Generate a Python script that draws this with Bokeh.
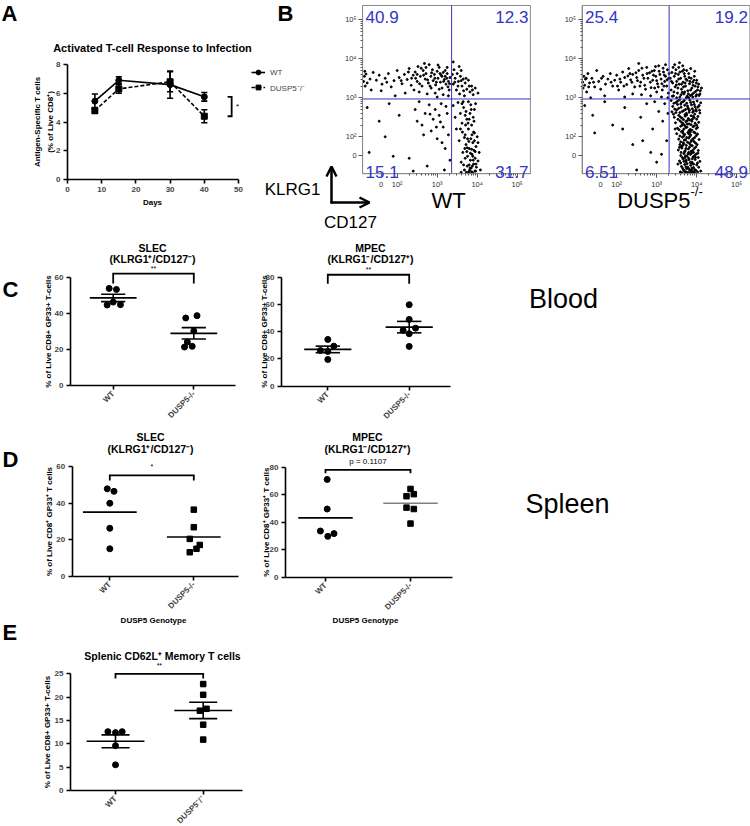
import math
import numpy as np
from bokeh.plotting import figure
from bokeh.models import (Label, Arrow, OpenHead, FixedTicker, Legend, LegendItem,
                          Range1d, LinearAxis)
from bokeh.embed import file_html
from bokeh.resources import INLINE

FONT = "Liberation Sans"
BLUE = "#3434c8"

# ---------------- data ----------------
# Panel A: time course (mean +/- SEM)
days = [8, 15, 30, 40]
a_wt_mean = [5.45, 6.9, 6.6, 5.75]
a_wt_sem = [0.5, 0.25, 0.95, 0.3]
a_ko_mean = [4.8, 6.3, 6.8, 4.4]
a_ko_sem = [0.2, 0.3, 0.7, 0.45]
a_series = ["WT", "DUSP5\u207b/\u207b"]
a_sig = "*"

# Panel B: flow cytometry (display decades); quadrant % TL, TR, BL, BR
flow_names = ["WT", "DUSP5"]
wt_quadrants = ["40.9", "12.3", "15.1", "31.7"]
ko_quadrants = ["25.4", "19.2", "6.51", "48.9"]
flow_x_ticks = [1.6, 2, 3, 4, 5]
flow_y_ticks = [1.52, 2, 3, 4, 5]
flow_tick_labels = ["0", "10\u00b2", "10\u00b3", "10\u2074", "10\u2075"]
wt_gate = [3.36, 2.97]
ko_gate = [3.31, 2.97]
wt_events = [
    (1.16,3.42),(1.18,3.55),(1.20,3.30),(1.22,3.61),(1.25,3.38),(1.35,3.20),(1.48,3.45),(1.55,3.58),
    (1.62,3.35),(1.70,3.50),(1.78,3.62),(1.85,3.28),(1.92,3.44),(2.00,3.70),(2.05,3.52),(2.12,3.36),
    (2.18,3.60),(2.25,3.47),(2.30,3.75),(2.35,3.32),(2.40,3.58),(2.45,3.66),(2.50,3.42),(2.52,3.80),
    (2.58,3.55),(2.62,3.30),(2.65,3.70),(2.70,3.48),(2.72,3.62),(2.78,3.38),(2.80,3.85),(2.84,3.55),
    (2.88,3.72),(2.90,3.44),(2.93,3.60),(2.96,3.33),(3.00,3.68),(3.02,3.50),(3.05,3.78),(3.08,3.40),
    (3.10,3.58),(3.12,3.25),(3.15,3.65),(3.18,3.47),(3.20,3.55),(3.22,3.35),(3.25,3.62),(3.28,3.42),
    (3.30,3.20),(3.32,3.52),(2.55,3.15),(2.75,3.10),(2.95,3.12),(3.15,3.08),(2.20,3.12),(1.95,3.05),
    (2.85,3.25),(3.05,3.22),(2.68,3.88),(3.25,3.78),(1.40,3.65),(1.60,3.18),(2.42,3.20),(3.00,3.02),
    (3.28,3.05),
    (3.38,3.60),(3.40,3.35),(3.42,3.72),(3.45,3.50),(3.48,3.20),(3.50,3.62),(3.53,3.42),(3.56,3.10),
    (3.58,3.55),(3.62,3.30),(3.65,3.48),(3.68,3.05),(3.70,3.38),(3.74,3.22),(3.78,3.45),(3.82,3.15),
    (3.86,3.30),(3.90,3.08),(3.95,3.25),(4.02,3.12),(3.40,3.92),(3.60,3.70),
    (1.25,2.75),(1.30,1.60),(1.55,2.40),(1.80,2.85),(2.05,2.55),(2.30,1.45),(2.45,2.70),(2.55,2.90),
    (2.62,2.30),(2.70,2.60),(2.75,1.25),(2.80,2.82),(2.85,2.15),(2.90,2.45),(2.95,2.70),(3.00,1.95),
    (3.05,2.55),(3.10,2.85),(3.15,2.25),(3.20,1.70),(3.25,2.60),(3.28,2.05),(3.32,1.40),(3.18,1.15),
    (2.40,1.12),(1.90,1.50),
    (3.40,2.80),(3.45,2.50),(3.48,2.20),(3.52,2.88),(3.55,1.90),(3.58,2.60),(3.60,1.35),(3.62,2.35),
    (3.64,1.60),(3.66,2.75),(3.68,1.15),(3.70,2.05),(3.72,1.80),(3.74,2.45),(3.75,1.25),(3.76,1.50),
    (3.78,2.20),(3.79,1.10),(3.80,1.70),(3.82,2.60),(3.83,1.40),(3.84,1.95),(3.85,1.20),(3.86,2.30),
    (3.87,1.55),(3.88,1.08),(3.89,1.85),(3.90,2.50),(3.91,1.30),(3.92,1.65),(3.93,2.10),(3.94,1.12),
    (3.95,1.45),(3.96,2.85),(3.97,1.75),(3.98,1.22),(4.00,2.00),(4.02,1.38),(4.05,1.60),(4.08,1.15),
    (3.65,2.90),(3.72,2.65),(3.78,2.90),(3.85,2.70),(3.92,2.40),(3.60,1.09),(3.70,1.45),(3.80,1.28),
    (3.86,1.10),(3.76,1.95),
    (3.62,2.85),(3.70,2.55),(3.77,2.35),(3.84,2.82),(3.91,2.12),(3.68,1.98),(3.75,1.72),(3.83,1.58),
    (3.90,1.40),(3.97,1.30),(3.66,1.28),(3.73,1.09),(3.81,1.14),(3.88,1.25),(3.95,1.62),(4.02,1.85),
    (3.63,2.12),(3.71,2.30),(3.79,1.88),(3.86,1.68),(3.93,1.90),(3.80,2.45),(3.87,2.05),(3.74,1.62),
    (3.82,1.20),(3.89,1.50),(3.96,1.12),(3.69,1.70),(3.58,2.20),(3.93,2.70),
    (2.10,3.44),(2.28,3.66),(2.46,3.50),(2.56,3.36),(2.66,3.58),(2.76,3.46),(2.86,3.64),(2.98,3.40),
    (3.07,3.62),(3.16,3.42),(3.24,3.50),(3.31,3.36),(2.60,3.76),(2.82,3.30),(3.02,3.84),(3.20,3.70),
    (2.36,3.50),(1.74,3.40),(1.32,3.48),(1.19,3.68),(2.94,3.50),(3.12,3.55),(2.50,3.60),(2.72,3.78),
    (3.27,3.28),
    (3.44,3.40),(3.52,3.30),(3.60,3.44),(3.66,3.18),(3.72,3.50),(3.80,3.30),(3.88,3.20),(3.55,3.80),
    (2.50,2.40),(2.82,2.58),(3.08,2.38),(3.22,2.78),(2.66,2.05),(3.12,1.85),(1.70,2.00),(2.98,2.25),
]
ko_events = [
    (1.15,3.40),(1.16,3.25),(1.18,3.55),(1.20,3.32),(1.22,3.48),(1.25,3.15),(1.28,3.62),(1.32,3.38),
    (1.38,3.50),(1.45,3.28),(1.50,3.70),(1.55,3.42),(1.60,3.22),(1.66,3.55),(1.72,3.35),(1.78,3.48),
    (1.84,3.62),(1.90,3.30),(1.95,3.45),(2.00,3.58),(2.05,3.20),(2.10,3.40),(2.15,3.66),(2.20,3.52),
    (2.25,3.34),(2.30,3.75),(2.35,3.46),(2.40,3.60),(2.45,3.28),(2.50,3.52),(2.55,3.70),(2.60,3.40),
    (2.65,3.58),(2.70,3.32),(2.75,3.78),(2.78,3.50),(2.82,3.64),(2.86,3.26),(2.90,3.45),(2.94,3.70),
    (2.98,3.55),(3.02,3.36),(3.05,3.82),(3.08,3.60),(3.11,3.48),(3.14,3.20),(3.17,3.66),(3.20,3.42),
    (3.22,3.55),(3.25,3.30),(3.27,3.72),(3.29,3.12),(3.30,3.50),(2.40,3.10),(2.62,3.08),(2.85,3.05),
    (3.00,3.15),(3.12,3.02),(1.70,3.05),(2.20,3.02),(3.22,3.85),(2.55,3.88),(1.35,3.00),(3.28,3.00),
    (2.95,3.25),(3.18,3.30),
    (2.08,3.48),(2.18,3.30),(2.28,3.56),(2.38,3.40),(2.48,3.64),(2.58,3.30),(2.68,3.50),(2.76,3.62),
    (2.84,3.40),(2.92,3.58),(3.00,3.44),(3.06,3.68),(3.13,3.36),(3.19,3.58),(3.26,3.46),(3.31,3.62),
    (2.52,3.44),(2.72,3.22),(2.88,3.68),(3.04,3.28),(1.24,3.50),(1.30,3.28),(1.42,3.40),(1.62,3.50),
    (1.86,3.40),(2.02,3.30),(2.33,3.62),(2.63,3.76),(2.97,3.80),(3.16,3.76),
    (3.34,3.50),(3.36,3.20),(3.38,3.65),(3.40,3.38),(3.42,3.05),(3.44,3.55),(3.46,3.28),(3.48,3.72),
    (3.50,3.42),(3.52,3.12),(3.54,3.60),(3.56,3.35),(3.58,3.02),(3.60,3.50),(3.62,3.22),(3.64,3.68),
    (3.66,3.40),(3.68,3.10),(3.70,3.55),(3.72,3.30),(3.74,3.00),(3.76,3.45),(3.78,3.18),(3.80,3.62),
    (3.82,3.36),(3.84,3.06),(3.86,3.50),(3.88,3.25),(3.90,3.40),(3.92,3.12),(3.94,3.55),(3.96,3.30),
    (3.98,3.04),(4.00,3.45),(4.02,3.20),(4.05,3.35),(4.08,3.10),(4.12,3.25),(3.45,3.85),(3.55,3.78),
    (3.65,3.82),(3.75,3.70),(3.85,3.75),(3.95,3.68),(3.50,3.00),(3.70,3.15),(3.80,3.00),(3.62,3.35),
    (3.90,3.02),(4.00,3.08),
    (3.37,3.42),(3.43,3.15),(3.49,3.33),(3.55,3.48),(3.61,3.08),(3.67,3.28),(3.73,3.48),(3.79,3.10),
    (3.85,3.20),(3.91,3.32),(3.97,3.16),(4.03,3.28),(4.09,3.18),(3.47,3.62),(3.58,3.66),(3.69,3.62),
    (3.81,3.52),(3.93,3.45),(4.06,3.06),(3.39,3.04),(3.53,3.25),(3.64,3.14),(3.76,3.04),(3.88,3.08),
    (3.71,3.38),(3.83,3.42),(3.99,3.38),(3.57,3.90),(3.41,3.78),(3.68,3.72),
    (1.20,2.80),(1.40,2.55),(1.70,2.90),(1.90,2.30),(2.20,2.75),(2.40,1.80),(2.60,2.50),(2.75,2.85),
    (2.90,2.20),(3.00,1.35),(3.05,2.65),(3.15,2.40),(3.20,2.85),(3.25,1.90),(3.28,2.60),(2.50,1.15),
    (2.85,1.60),(1.45,2.10),(2.15,2.20),(2.95,2.90),(3.12,1.55),(2.65,1.90),
    (3.36,2.93),(3.48,2.88),(3.57,2.95),(3.66,2.90),(3.75,2.86),(3.83,2.94),(3.92,2.89),(4.01,2.92),
    (4.10,2.87),(3.40,2.78),(3.52,2.83),(3.61,2.76),(3.70,2.81),(3.78,2.74),(3.87,2.82),(3.96,2.77),
    (4.06,2.80),(3.45,2.71),(3.38,2.64),(3.50,2.69),(3.58,2.62),(3.67,2.67),(3.74,2.60),(3.82,2.68),
    (3.90,2.63),(3.99,2.66),(4.08,2.61),(3.44,2.50),(3.55,2.55),(3.63,2.48),(3.71,2.53),(3.79,2.47),
    (3.86,2.54),(3.94,2.49),(4.03,2.52),(3.47,2.36),(3.58,2.41),(3.66,2.34),(3.73,2.39),(3.81,2.33),
    (3.88,2.40),(3.96,2.35),(4.05,2.37),(3.52,2.22),(3.60,2.27),(3.68,2.20),(3.76,2.25),(3.84,2.19),
    (3.91,2.26),(3.99,2.21),(3.50,2.08),(3.62,2.13),(3.70,2.06),(3.78,2.11),(3.85,2.05),(3.93,2.12),
    (4.02,2.07),(3.55,1.94),(3.64,1.99),(3.72,1.92),(3.80,1.97),(3.87,1.91),(3.95,1.98),(4.06,1.93),
    (3.58,1.80),(3.66,1.85),(3.74,1.78),(3.82,1.83),(3.89,1.77),(3.97,1.84),(3.54,1.66),(3.63,1.71),
    (3.71,1.64),(3.79,1.69),(3.86,1.63),(3.94,1.70),(4.04,1.65),(3.60,1.52),(3.68,1.57),(3.76,1.50),
    (3.84,1.55),(3.91,1.49),(3.99,1.56),(3.57,1.38),(3.66,1.43),(3.73,1.36),(3.81,1.41),(3.88,1.35),
    (3.96,1.42),(4.08,1.37),(3.62,1.24),(3.70,1.29),(3.78,1.22),(3.85,1.27),(3.92,1.21),(4.00,1.28),
    (3.59,1.10),(3.67,1.15),(3.75,1.09),(3.83,1.13),(3.90,1.11),(3.98,1.14),(4.10,1.12),
    (3.62,2.88),(3.79,2.72),(3.71,2.57),(3.89,2.45),(3.64,2.30),(3.81,2.16),(3.68,2.02),(3.86,1.88),
    (3.62,1.75),(3.80,1.60),(3.70,1.46),(3.89,1.32),(3.75,1.18),(3.93,1.09),(3.42,2.58),(3.46,2.20),
    (4.00,2.30),(3.53,1.30),(4.04,1.47),(3.95,2.58),
    (3.52,2.91),(3.60,2.84),(3.69,2.93),(3.77,2.79),(3.85,2.88),(3.94,2.83),(4.03,2.76),(3.43,2.86),
    (3.55,2.73),(3.64,2.65),(3.72,2.70),(3.81,2.63),(3.89,2.72),(3.98,2.70),(4.07,2.68),(3.48,2.62),
    (3.59,2.51),(3.67,2.44),(3.75,2.56),(3.83,2.43),(3.91,2.52),(4.00,2.45),(3.53,2.45),(3.62,2.37),
    (3.70,2.29),(3.77,2.42),(3.86,2.31),(3.94,2.28),(4.02,2.24),(3.56,2.18),(3.65,2.15),(3.73,2.24),
    (3.80,2.08),(3.88,2.17),(3.96,2.10),(3.58,2.02),(3.66,2.09),(3.75,1.98),(3.83,2.01),(3.91,1.95),
    (3.99,2.03),(3.60,1.87),(3.69,1.92),(3.77,1.86),(3.85,1.79),(3.93,1.88),(4.01,1.80),(3.57,1.73),
    (3.65,1.78),(3.73,1.70),(3.82,1.73),(3.90,1.65),(3.98,1.74),(3.61,1.60),(3.70,1.62),(3.78,1.56),
    (3.87,1.58),(3.95,1.52),(4.03,1.58),(3.64,1.47),(3.72,1.51),(3.80,1.45),(3.89,1.44),(3.97,1.47),
    (3.60,1.33),(3.68,1.37),(3.76,1.31),(3.84,1.34),(3.92,1.30),(4.02,1.33),(3.65,1.19),(3.73,1.23),
    (3.81,1.17),(3.88,1.20),(3.95,1.16),(4.05,1.22),(3.63,1.08),(3.71,1.10),(3.79,1.08),(3.86,1.08),
    (3.94,1.09),(4.02,1.10),(3.69,1.13),(3.87,1.15),(3.74,1.40),(3.92,1.60),(3.68,1.82),(3.84,2.12),
    (3.76,2.33),(3.92,2.66),
]

# Panels C-E: individual mice (value, horizontal jitter in category units)
genotypes = ["WT", "DUSP5-/-"]
genotypes_sup = ["WT", "DUSP5\u207b/\u207b"]
c_slec_wt = [53.8, 53.2, 44.6, 46.2, 44.8]
c_slec_wt_dx = [-0.05, 0.04, -0.075, 0.0, 0.09]
c_slec_ko = [37.4, 38.7, 30.2, 24.1, 21.3, 21.7]
c_slec_ko_dx = [-0.10, 0.04, 0.0, -0.08, -0.115, -0.02]
c_mpec_wt = [34.3, 29.4, 26.2, 25.5, 19.6]
c_mpec_wt_dx = [0.0, 0.074, -0.09, 0.0, 0.0]
c_mpec_ko = [59.8, 49.0, 42.6, 41.0, 38.5, 29.2]
c_mpec_ko_dx = [0.0, 0.0, 0.078, -0.074, 0.0, 0.0]
d_slec_wt = [47.8, 46.4, 39.9, 26.2, 15.0]
d_slec_wt_dx = [-0.03, 0.05, 0.0, 0.0, 0.0]
d_slec_ko = [36.4, 26.8, 20.4, 17.1, 15.0, 13.1]
d_slec_ko_dx = [0.0, 0.0, -0.048, 0.071, 0.032, -0.048]
d_mpec_wt = [71.1, 49.6, 33.6, 29.7, 31.7]
d_mpec_wt_dx = [0.02, 0.02, -0.06, 0.027, 0.1]
d_mpec_ko = [64.2, 58.9, 60.4, 50.6, 49.6, 39.0]
d_mpec_ko_dx = [0.0, -0.047, 0.039, -0.047, 0.039, 0.0]
e_wt = [12.6, 12.4, 12.6, 9.6, 5.5]
e_wt_dx = [-0.087, 0.0, 0.076, 0.0, 0.0]
e_ko = [22.8, 20.5, 17.1, 17.5, 14.1, 10.9]
e_ko_dx = [0.0, 0.0, -0.038, 0.038, 0.0, 0.0]
c_sig = ["**", "**"]
d_sig = ["*", "p = 0.1107"]
e_sig = "**"

# ---------------- canvas: one figure, one coordinate system per panel ----------------
W, H = 750, 826
xr_extra, yr_extra = {}, {}

def panel(name, xv, xpx, yv, ypy):
    (xv0, xv1), (xp0, xp1) = xv, xpx
    sx = (xv1 - xv0) / (xp1 - xp0)
    xr_extra[name] = Range1d(xv0 - xp0 * sx, xv0 + (W - xp0) * sx)
    (yv0, yv1), (yp0, yp1) = yv, ypy
    sy = (yv1 - yv0) / (yp1 - yp0)
    yr_extra[name] = Range1d(yv0 + (H - yp0) * sy, yv0 - yp0 * sy)

panel("A", (0, 50), (67, 238), (0, 8), (179, 64))
panel("WT", (3, 4), (436.7, 476.7), (3, 4), (97.3, 58.3))
panel("KO", (3, 4), (656.2, 696.2), (3, 4), (97.3, 58.3))
panel("CL", (1, 2), (112.7, 193.3), (0, 60), (385, 276.7))
panel("CR", (1, 2), (327.3, 408.7), (0, 80), (385.7, 276.7))
panel("DL", (1, 2), (109.3, 193.3), (0, 60), (575.7, 466))
panel("DR", (1, 2), (325, 410), (0, 80), (576.7, 466.7))
panel("E", (1, 2), (115, 202.7), (0, 25), (790, 673.3))

p = figure(width=W, height=H, x_range=Range1d(0, W), y_range=Range1d(H, 0),
           x_axis_type=None, y_axis_type=None, min_border=0, title=None,
           output_backend="svg", toolbar_location=None, tools="")
p.extra_x_ranges = xr_extra
p.extra_y_ranges = yr_extra
p.outline_line_color = None
p.background_fill_color = "white"
p.border_fill_color = "white"

def kw(name):
    return dict(x_range_name=name, y_range_name=name)

def text(x, y, s, size, bold=False, align="center", baseline="middle", color="black",
         angle=0.0, rn="default"):
    p.add_layout(Label(x=x, y=y, text=s, text_font=FONT, text_font_size=f"{size}px",
                       text_font_style="bold" if bold else "normal", text_align=align,
                       text_baseline=baseline, text_color=color, angle=angle, **kw(rn)))

def gp_axes(name, xb, yb, x_ticks, y_ticks, x_labels=None, orient=None):
    ya = LinearAxis(fixed_location=xb[0], bounds=yb, ticker=FixedTicker(ticks=y_ticks), **kw(name))
    xa = LinearAxis(fixed_location=yb[0], bounds=xb, ticker=FixedTicker(ticks=x_ticks), **kw(name))
    for ax in (xa, ya):
        ax.axis_line_width = 1.6
        ax.major_tick_line_width = 1.6
        ax.major_tick_out = 4
        ax.major_tick_in = 0
        ax.minor_tick_line_color = None
        ax.major_label_text_font = FONT
        ax.major_label_text_font_style = "bold"
        ax.major_label_text_font_size = "8px"
        ax.major_label_standoff = 3
    if x_labels:
        xa.major_label_overrides = {t: l for t, l in zip(x_ticks, x_labels)}
    if orient:
        xa.major_label_orientation = orient
    p.add_layout(ya, "left")
    p.add_layout(xa, "below")

def dot_panel(name, wt, wt_dx, ko, ko_dx, ko_marker, with_sem, mean_hw, sem_hw,
              ko_line_color="black"):
    k = kw(name)
    groups = [(1, wt, wt_dx, "circle", "black"), (2, ko, ko_dx, ko_marker, ko_line_color)]
    for cx, vals, dx, mk, lc in groups:
        xs = [cx + d for d in dx]
        p.scatter(xs, vals, marker=mk, size=6 if mk == "circle" else 5.5, color="black", **k)
        m = float(np.mean(vals))
        p.segment(x0=[cx - mean_hw], y0=[m], x1=[cx + mean_hw], y1=[m], line_width=1.6,
                  color=lc, **k)
        if with_sem:
            se = float(np.std(vals, ddof=1) / np.sqrt(len(vals)))
            p.segment(x0=[cx - sem_hw, cx - sem_hw, cx], y0=[m + se, m - se, m - se],
                      x1=[cx + sem_hw, cx + sem_hw, cx], y1=[m + se, m - se, m + se],
                      line_width=1.6, color="black", **k)

def bracket(name, ytop, ybot, sig, ysig, size):
    p.line([1, 1, 2, 2], [ybot, ytop, ytop, ybot], line_width=1.8, color="black",
           line_join="miter", **kw(name))
    text(1.5, ysig, sig, size, rn=name)

# ---------------- Panel A ----------------
gp_axes("A", (0, 50), (0, 8), [0, 10, 20, 30, 40, 50], [0, 2, 4, 6, 8])
kA = kw("A")
for means, sems in ((a_wt_mean, a_wt_sem), (a_ko_mean, a_ko_sem)):
    lo = [m - s for m, s in zip(means, sems)]
    hi = [m + s for m, s in zip(means, sems)]
    p.segment(x0=days, y0=lo, x1=days, y1=hi, line_width=1.6, color="black", **kA)
    for ends in (lo, hi):
        p.segment(x0=[d - 0.9 for d in days], y0=ends, x1=[d + 0.9 for d in days], y1=ends,
                  line_width=1.6, color="black", **kA)
r1 = p.line(days, a_wt_mean, line_width=1.6, color="black", **kA)
r2 = p.scatter(days, a_wt_mean, marker="circle", size=6, color="black", **kA)
r3 = p.line(days, a_ko_mean, line_width=1.6, color="black", line_dash="4 2", **kA)
r4 = p.scatter(days, a_ko_mean, marker="square", size=6, color="black", **kA)
p.add_layout(Legend(items=[LegendItem(label=a_series[0], renderers=[r1, r2]),
                           LegendItem(label=a_series[1], renderers=[r3, r4])],
                    location=(251, H - 93), padding=0, margin=0, spacing=3,
                    glyph_height=12, glyph_width=14, label_height=12, label_standoff=5,
                    label_text_font=FONT, label_text_font_size="8px",
                    border_line_color=None, background_fill_alpha=0))
yb_lo, yb_hi = a_ko_mean[-1], a_wt_mean[-1]
p.line([46.8, 48.0, 48.0, 46.8], [yb_hi, yb_hi, yb_lo, yb_lo], line_width=1.8, color="black",
       line_join="miter", **kA)
text(49.7, (yb_lo + yb_hi) / 2, a_sig, 8, rn="A")
text(152, 47, "Activated T-cell Response to Infection", 11, bold=True)
text(37, 121.5, "Antigen-Specific T cells", 8, bold=True, angle=math.pi / 2)
text(50, 121.5, "(% of Live CD8\u207a)", 8, bold=True, angle=math.pi / 2)
text(152, 202, "Days", 8, bold=True)
text(1, 13, "A", 22, bold=True, align="left")
text(277, 13, "B", 22, bold=True, align="left")

# ---------------- Panel B ----------------
flow_minor = [d + math.log10(k) for d in (2, 3, 4) for k in range(2, 10)]
flow_xb = (1.135, 5.33)
flow_yb = (1.054, 5.367)

def flow_panel(name, events, quads, gate, x3_px):
    k = kw(name)
    p.quad(left=[flow_xb[0]], right=[flow_xb[1]], bottom=[flow_yb[0]], top=[flow_yb[1]],
           fill_color=None, line_color="#8a8a8a", line_width=1, **k)
    p.scatter([e[0] for e in events], [e[1] for e in events], marker="circle", size=2.0,
              color="black", **k)
    p.segment(x0=[gate[0], flow_xb[0]], y0=[flow_yb[0], gate[1]],
              x1=[gate[0], flow_xb[1]], y1=[flow_yb[1], gate[1]], line_color=BLUE,
              line_width=1, **k)
    ya = LinearAxis(fixed_location=flow_xb[0], bounds=flow_yb,
                    ticker=FixedTicker(ticks=flow_y_ticks, minor_ticks=flow_minor), **k)
    xa = LinearAxis(fixed_location=flow_yb[0], bounds=flow_xb,
                    ticker=FixedTicker(ticks=flow_x_ticks, minor_ticks=flow_minor), **k)
    for ax, ticks in ((xa, flow_x_ticks), (ya, flow_y_ticks)):
        ax.major_label_overrides = {t: l for t, l in zip(ticks, flow_tick_labels)}
        ax.axis_line_color = "#8a8a8a"
        ax.major_tick_line_color = "#555555"
        ax.minor_tick_line_color = "#555555"
        ax.major_tick_out = 4
        ax.major_tick_in = 0
        ax.minor_tick_out = 2
        ax.minor_tick_in = 0
        ax.major_label_text_font = FONT
        ax.major_label_text_font_size = "7.5px"
        ax.major_label_text_color = "#333333"
        ax.major_label_standoff = 2
    p.add_layout(ya, "left")
    p.add_layout(xa, "below")
    left = x3_px - (3 - flow_xb[0]) * 40
    right = x3_px + (flow_xb[1] - 3) * 40
    text(left + 3, 10, quads[0], 17, align="left", baseline="top", color=BLUE)
    text(right - 2, 10, quads[1], 17, align="right", baseline="top", color=BLUE)
    text(left + 3, 171, quads[2], 17, align="left", baseline="alphabetic", color=BLUE)
    text(right - 2, 171, quads[3], 17, align="right", baseline="alphabetic", color=BLUE)

flow_panel("WT", wt_events, wt_quadrants, wt_gate, 436.7)
flow_panel("KO", ko_events, ko_quadrants, ko_gate, 656.2)
text(448, 200, flow_names[0], 22)
text(690, 200, flow_names[1], 22, align="right")
text(690, 191, "-/-", 13, align="left")
text(320, 189, "KLRG1", 17, align="right")
text(350, 222, "CD127", 17)
p.add_layout(Arrow(x_start=331, y_start=203, x_end=331, y_end=166, line_width=2.5,
                   end=OpenHead(size=10, line_width=2.5)))
p.add_layout(Arrow(x_start=330, y_start=202, x_end=369, y_end=202, line_width=2.5,
                   end=OpenHead(size=10, line_width=2.5)))

# ---------------- Panel C ----------------
gp_axes("CL", (0.470, 2.517), (0, 60), [1, 2], [0, 20, 40, 60], genotypes, math.pi / 4)
dot_panel("CL", c_slec_wt, c_slec_wt_dx, c_slec_ko, c_slec_ko_dx, "circle", True, 0.29, 0.15)
bracket("CL", 62.0, 56.5, c_sig[0], 65.0, 7)
text(152, 247, "SLEC", 10.5, bold=True)
text(152, 258.5, "(KLRG1\u207a/CD127\u207b)", 10.5, bold=True)
text(48, 331, "% of Live CD8+ GP33+ T-cells", 8, bold=True, angle=math.pi / 2)
text(2, 289, "C", 22, bold=True, align="left")

gp_axes("CR", (0.431, 2.507), (0, 80), [1, 2], [0, 20, 40, 60, 80], genotypes, math.pi / 4)
dot_panel("CR", c_mpec_wt, c_mpec_wt_dx, c_mpec_ko, c_mpec_ko_dx, "circle", True, 0.29, 0.15)
bracket("CR", 81.8, 75.2, c_sig[1], 85.6, 7)
text(370, 247, "MPEC", 10.5, bold=True)
text(370, 258.5, "(KLRG1\u207b/CD127\u207a)", 10.5, bold=True)
text(264, 331, "% of Live CD8+ GP33+ T-cells", 8, bold=True, angle=math.pi / 2)
text(563, 298, "Blood", 27)

# ---------------- Panel D ----------------
gp_axes("DL", (0.552, 2.53), (0, 60), [1, 2], [0, 20, 40, 60], genotypes, math.pi / 4)
dot_panel("DL", d_slec_wt, d_slec_wt_dx, d_slec_ko, d_slec_ko_dx, "square", False, 0.32, 0)
bracket("DL", 55.1, 52.4, d_sig[0], 60.0, 7)
text(150, 436, "SLEC", 10.5, bold=True)
text(150, 448, "(KLRG1\u207a/CD127\u207b)", 10.5, bold=True)
text(49, 521, "% of Live CD8\u207a GP33\u207a T cells", 8, bold=True, angle=math.pi / 2)
text(153, 620, "DUSP5 Genotype", 8, bold=True)
text(2, 459, "D", 22, bold=True, align="left")

gp_axes("DR", (0.529, 2.494), (0, 80), [1, 2], [0, 20, 40, 60, 80], genotypes, math.pi / 4)
dot_panel("DR", d_mpec_wt, d_mpec_wt_dx, d_mpec_ko, d_mpec_ko_dx, "square", False, 0.32, 0,
          ko_line_color="#808080")
bracket("DR", 78.1, 75.6, d_sig[1], 83.8, 8)
text(367, 436, "MPEC", 10.5, bold=True)
text(367, 448, "(KLRG1\u207b/CD127\u207a)", 10.5, bold=True)
text(266, 521.7, "% of Live CD8\u207a GP33\u207a T cells", 8, bold=True, angle=math.pi / 2)
text(365, 620, "DUSP5 Genotype", 8, bold=True)
text(567, 503, "Spleen", 27)

# ---------------- Panel E ----------------
gp_axes("E", (0.487, 2.448), (0, 25), [1, 2], [0, 5, 10, 15, 20, 25], genotypes_sup,
        math.pi / 4)
dot_panel("E", e_wt, e_wt_dx, e_ko, e_ko_dx, "square", True, 0.33, 0.16)
bracket("E", 25.0, 24.0, e_sig, 26.8, 7)
text(162, 655, "Splenic CD62L\u207a Memory T cells", 10.5, bold=True)
text(47, 731.6, "% of Live CD8+ GP33+ T-cells", 8, bold=True, angle=math.pi / 2)
text(2, 632, "E", 22, bold=True, align="left")

open("out.html", "w").write(file_html(p, INLINE, "Figure"))
